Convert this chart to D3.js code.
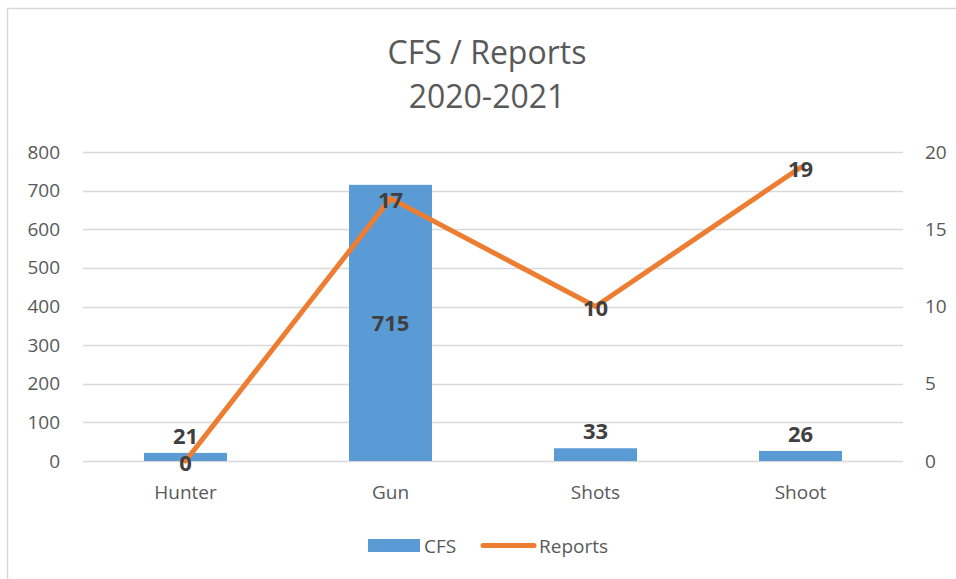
<!DOCTYPE html>
<html>
<head>
<meta charset="utf-8">
<script src="https://cdn.jsdelivr.net/npm/d3@7"></script>
<style>
  body { margin: 0; background: #fff; }
  text { font-family: "Open Sans", "Liberation Sans", sans-serif; }
</style>
</head>
<body>
<div id="chart"></div>
<script>
// data
var categories = ["Hunter", "Gun", "Shots", "Shoot"];
var cfsValues = [21, 715, 33, 26];
var reportValues = [0, 17, 10, 19];
var leftTicks = [0, 100, 200, 300, 400, 500, 600, 700, 800];
var rightTicks = [0, 5, 10, 15, 20];

var W = 956, H = 579;
var margin = {top: 152, right: 53, bottom: 118, left: 83};
var width = W - margin.left - margin.right,
    height = H - margin.top - margin.bottom;

var svg = d3.select("#chart")
    .append("svg")
    .attr("width", W)
    .attr("height", H);

// chart frame (only top/left visible in the shot)
svg.append("rect")
    .attr("x", 7.5)
    .attr("y", 8.5)
    .attr("width", W + 20)
    .attr("height", H + 20)
    .style("fill", "none")
    .style("stroke", "#d9d9d9")
    .style("stroke-width", "1.5px");

// title
var title = svg.append("text")
    .attr("text-anchor", "middle")
    .style("font-size", "32px")
    .style("fill", "#595959");
title.append("tspan").attr("x", 487).attr("y", 64).text("CFS / Reports");
title.append("tspan").attr("x", 487).attr("y", 108).text("2020-2021");

var g = svg.append("g")
    .attr("transform", "translate(" + margin.left + "," + margin.top + ")");

var x = d3.scaleBand()
    .domain(categories)
    .range([0, width]);

var y = d3.scaleLinear()
    .domain([0, 800])
    .range([height, 0]);

var y2 = d3.scaleLinear()
    .domain([0, 20])
    .range([height, 0]);

// gridlines
g.selectAll(".grid")
    .data(leftTicks)
    .enter()
    .append("line")
    .attr("class", "grid")
    .attr("x1", 0)
    .attr("x2", width)
    .attr("y1", function (d) { return Math.round(y(d)) + 0.5; })
    .attr("y2", function (d) { return Math.round(y(d)) + 0.5; })
    .style("stroke", "#d9d9d9")
    .style("stroke-width", "1.5px");

// left axis
var yAxis = d3.axisLeft(y).tickValues(leftTicks).tickSize(0).tickPadding(23);
g.append("g")
    .call(yAxis)
    .call(function (s) { s.select(".domain").remove(); })
    .selectAll("text")
    .style("font-size", "19px")
    .style("fill", "#595959");

// right axis
var yAxis2 = d3.axisRight(y2).tickValues(rightTicks).tickSize(0).tickPadding(22);
g.append("g")
    .attr("transform", "translate(" + width + ",0)")
    .call(yAxis2)
    .call(function (s) { s.select(".domain").remove(); })
    .selectAll("text")
    .style("font-size", "19px")
    .style("fill", "#595959");

// category axis
var xAxis = d3.axisBottom(x).tickSize(0).tickPadding(25);
g.append("g")
    .attr("transform", "translate(0," + height + ")")
    .call(xAxis)
    .call(function (s) { s.select(".domain").remove(); })
    .selectAll("text")
    .style("font-size", "19px")
    .style("fill", "#595959");

// bars
var barW = x.bandwidth() * 0.405;
g.selectAll(".bar")
    .data(cfsValues)
    .enter()
    .append("rect")
    .attr("class", "bar")
    .attr("x", function (d, i) { return x(categories[i]) + x.bandwidth() / 2 - barW / 2; })
    .attr("y", function (d) { return y(d); })
    .attr("width", barW)
    .attr("height", function (d) { return height - y(d); })
    .style("fill", "#5b9bd5");

// line
var line = d3.line()
    .x(function (d, i) { return x(categories[i]) + x.bandwidth() / 2; })
    .y(function (d) { return y2(d); });

g.append("path")
    .datum(reportValues)
    .attr("d", line)
    .style("fill", "none")
    .style("stroke", "#ed7d31")
    .style("stroke-width", "5px")
    .style("stroke-linejoin", "round")
    .style("stroke-linecap", "round");

// bar labels: inside for the tall bar, above for short ones
g.selectAll(".barlabel")
    .data(cfsValues)
    .enter()
    .append("text")
    .attr("class", "barlabel")
    .attr("x", function (d, i) { return x(categories[i]) + x.bandwidth() / 2; })
    .attr("y", function (d) {
        return d > 100 ? (y(d) + height) / 2 : y(d) - 17;
    })
    .attr("dy", "0.36em")
    .attr("text-anchor", "middle")
    .text(function (d) { return d; })
    .style("font-size", "22px")
    .style("font-weight", "bold")
    .style("fill", "#404040");

// line labels, centred on the points
g.selectAll(".linelabel")
    .data(reportValues)
    .enter()
    .append("text")
    .attr("class", "linelabel")
    .attr("x", function (d, i) { return x(categories[i]) + x.bandwidth() / 2; })
    .attr("y", function (d) { return y2(d) + 2; })
    .attr("dy", "0.36em")
    .attr("text-anchor", "middle")
    .text(function (d) { return d; })
    .style("font-size", "22px")
    .style("font-weight", "bold")
    .style("fill", "#404040");

// legend
var legend = svg.append("g");
legend.append("rect")
    .attr("x", 368)
    .attr("y", 539)
    .attr("width", 52)
    .attr("height", 13)
    .style("fill", "#5b9bd5");
legend.append("text")
    .attr("x", 424)
    .attr("y", 546)
    .attr("dy", "0.36em")
    .text("CFS")
    .style("font-size", "19px")
    .style("fill", "#595959");
legend.append("line")
    .attr("x1", 483)
    .attr("x2", 534)
    .attr("y1", 545.5)
    .attr("y2", 545.5)
    .style("stroke", "#ed7d31")
    .style("stroke-width", "5px")
    .style("stroke-linecap", "round");
legend.append("text")
    .attr("x", 539)
    .attr("y", 546)
    .attr("dy", "0.36em")
    .text("Reports")
    .style("font-size", "19px")
    .style("fill", "#595959");
</script>
</body>
</html>
